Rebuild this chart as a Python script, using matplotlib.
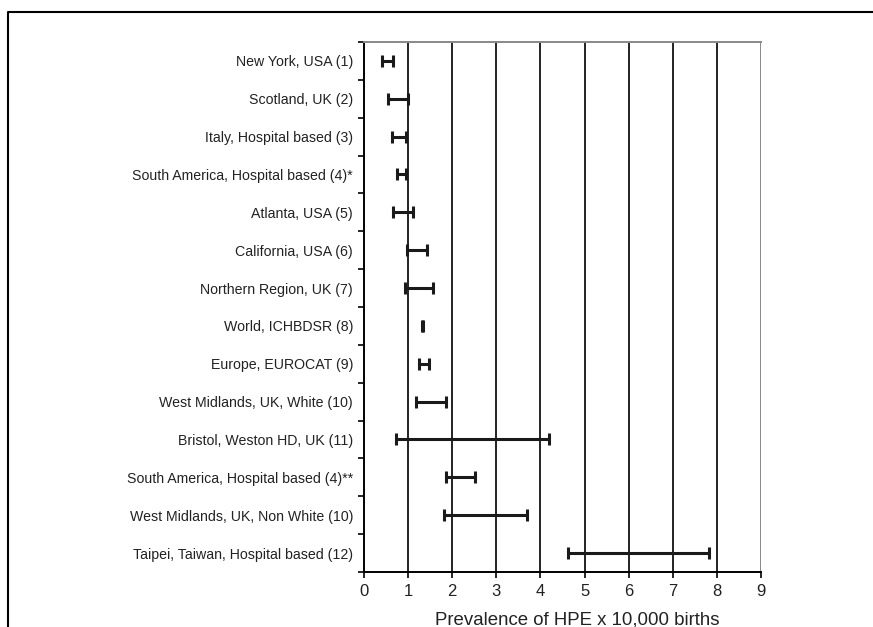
import matplotlib
matplotlib.use("Agg")
import matplotlib.pyplot as plt
from matplotlib.lines import Line2D
import numpy as np

plt.rcParams['font.family'] = ['Liberation Sans', 'DejaVu Sans']

# study labels, top to bottom
studies = [
    "New York, USA (1)",
    "Scotland, UK (2)",
    "Italy, Hospital based (3)",
    "South America, Hospital based (4)*",
    "Atlanta, USA (5)",
    "California, USA (6)",
    "Northern Region, UK (7)",
    "World, ICHBDSR (8)",
    "Europe, EUROCAT (9)",
    "West Midlands, UK, White (10)",
    "Bristol, Weston HD, UK (11)",
    "South America, Hospital based (4)**",
    "West Midlands, UK, Non White (10)",
    "Taipei, Taiwan, Hospital based (12)",
]
# confidence interval limits (per 10,000 births)
ci_low = [0.40, 0.54, 0.63, 0.74, 0.66, 0.97, 0.93, 1.31, 1.25, 1.18, 0.72, 1.87, 1.82, 4.62]
ci_high = [0.66, 0.99, 0.95, 0.95, 1.12, 1.42, 1.56, 1.34, 1.47, 1.87, 4.19, 2.52, 3.69, 7.82]

x_ticks = list(range(0, 10))

fig = plt.figure(figsize=(8.73, 6.27), dpi=100)
ax = fig.add_axes([364 / 873, 1 - 572 / 627, 397 / 873, 530 / 627])

low = np.array(ci_low)
high = np.array(ci_high)
mid = (low + high) / 2
y = np.arange(len(studies))

ax.errorbar(mid, y, xerr=[mid - low, high - mid], fmt='none', ecolor='#1a1a1a',
            elinewidth=2.2, capsize=4.5, capthick=2.2, zorder=3)

ax.set_xlim(0, 9)
ax.set_ylim(len(studies) - 0.5, -0.5)

for xv in x_ticks[1:]:
    ax.axvline(xv, color='#222222' if xv < 9 else '#888888', lw=1.4, zorder=1)

ax.set_xticks(x_ticks)
ax.set_xticklabels([str(v) for v in x_ticks], fontsize=12, color='#222222')
ax.tick_params(axis='x', direction='out', length=4, width=1.2, pad=5)

ax.set_yticks(y)
ax.set_yticklabels(studies, fontsize=10.2, color='#222222')
ax.set_yticks(np.arange(len(studies) + 1) - 0.5, minor=True)
ax.tick_params(axis='y', which='major', length=0, pad=8)
ax.tick_params(axis='y', which='minor', direction='out', length=4, width=1.2)

ax.spines['left'].set_linewidth(1.4)
ax.spines['bottom'].set_linewidth(1.4)
ax.spines['top'].set_color('#888888')
ax.spines['top'].set_linewidth(1.4)
ax.spines['right'].set_visible(False)

ax.set_xlabel("Prevalence of HPE x 10,000 births", fontsize=13.4, labelpad=8.6,
              color='#222222')
ax.xaxis.label.set_x(0.5365)

# outer frame, cut at right and bottom edges
fx = 8 / 873
fy = 1 - 12 / 627
fig.add_artist(Line2D([fx, fx, 1], [0, fy, fy], transform=fig.transFigure,
                      color='black', lw=1.5))

fig.savefig("out.png", dpi=100)
